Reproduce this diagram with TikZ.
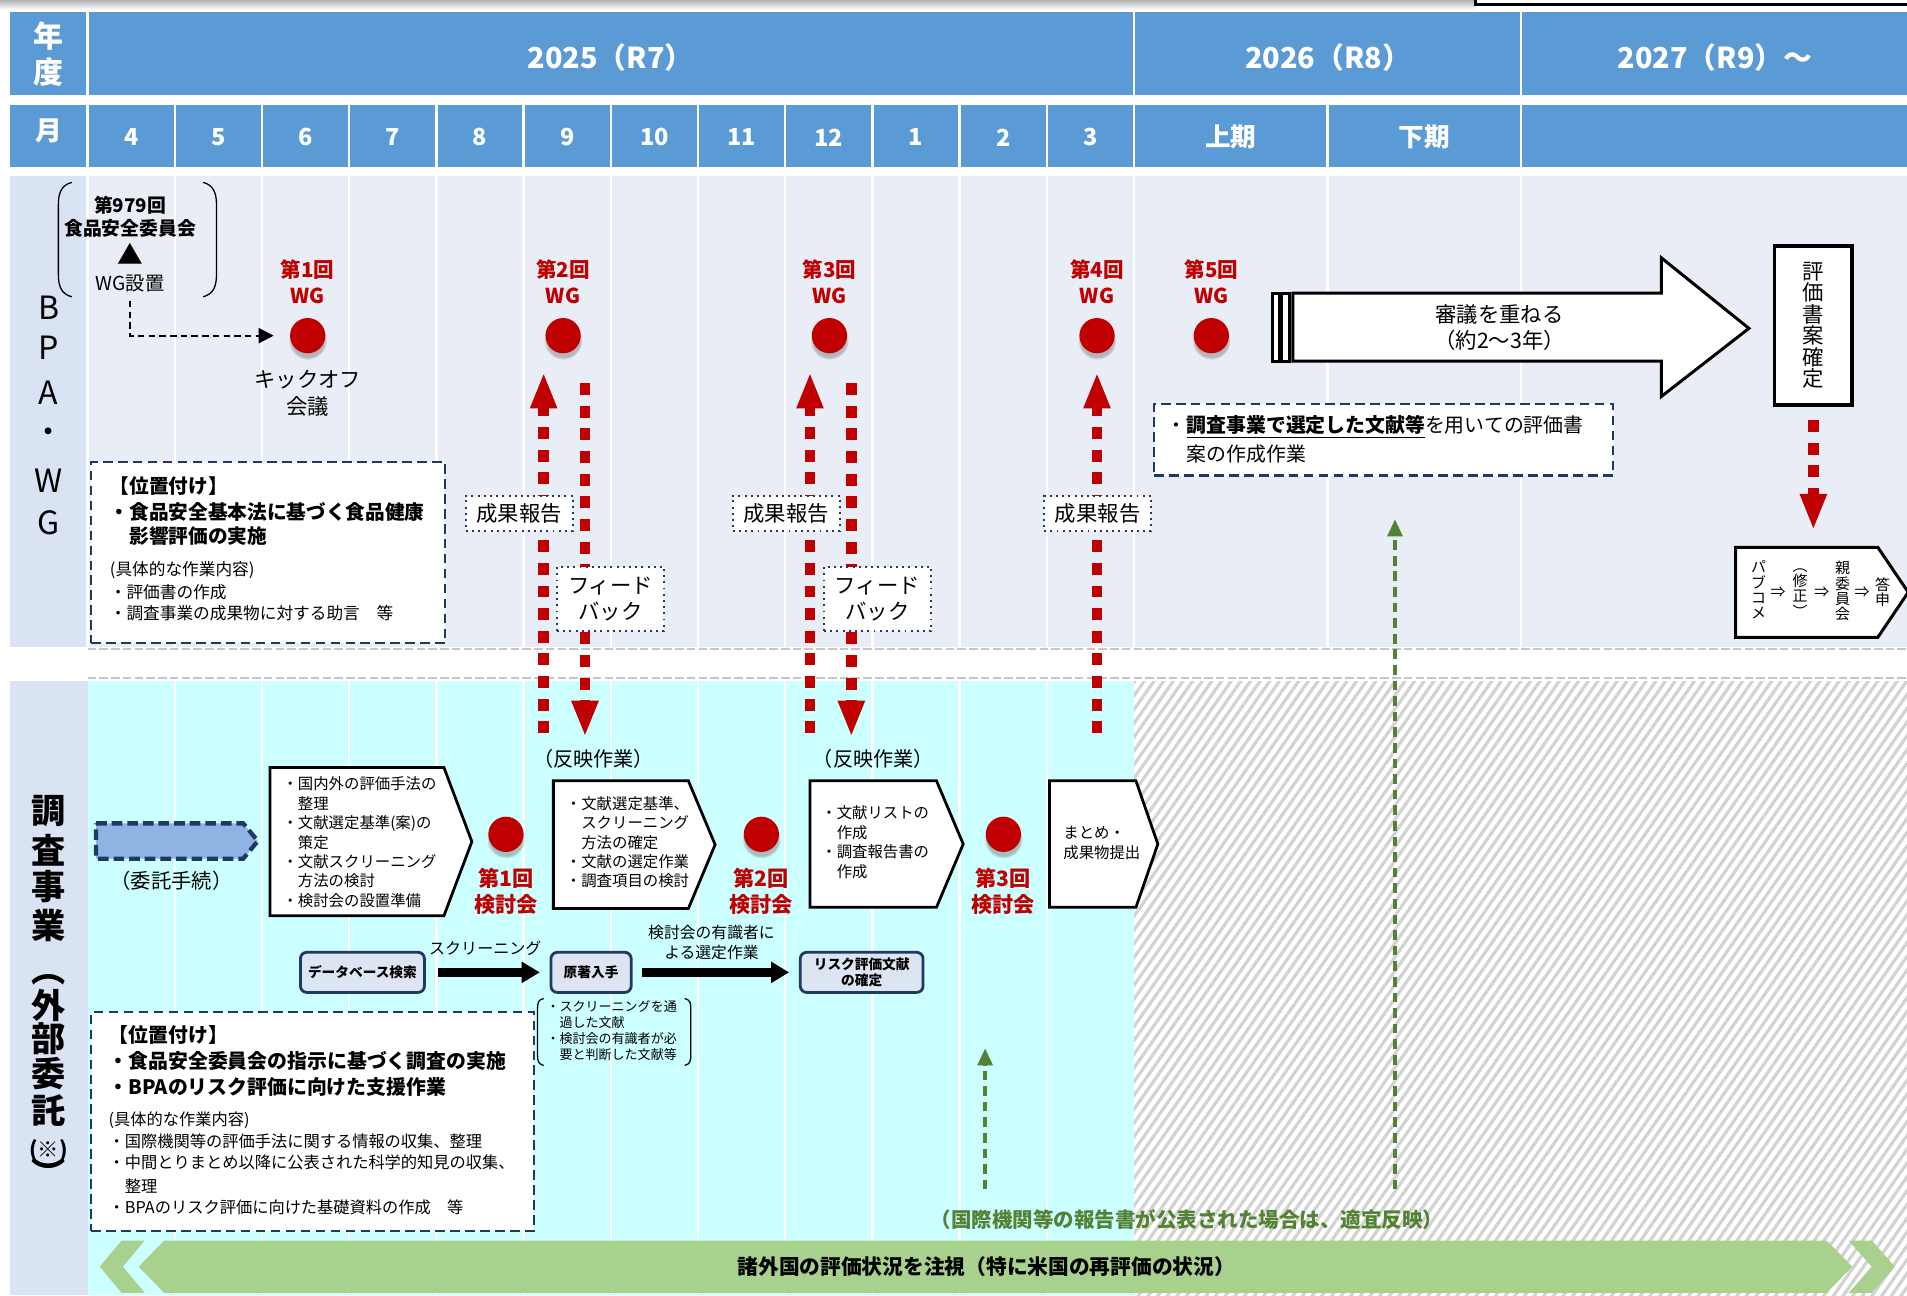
\documentclass[tikz,border=0pt]{standalone}
\usepackage{fontspec}
\setmainfont{Noto Sans CJK JP}
\usetikzlibrary{arrows.meta, positioning, shadows, patterns.meta}

\definecolor{hdblue}{HTML}{5B9BD5}
\definecolor{bandgray}{HTML}{E9EDF5}
\definecolor{labelgray}{HTML}{DAE3F3}
\definecolor{bandcyan}{HTML}{CCFFFF}
\definecolor{wgred}{HTML}{C00000}
\definecolor{navy}{HTML}{203864}
\definecolor{leafgreen}{HTML}{548235}
\definecolor{bandgreen}{HTML}{A9D18E}
\definecolor{dbfill}{HTML}{DDE5F2}
\definecolor{handfill}{HTML}{8FB4E3}

\newcommand{\fsz}[2]{\fontsize{#1pt}{#2pt}\selectfont}

\begin{document}
\begin{tikzpicture}[x=0.02cm, y=-0.02cm, >=latex,
    sep/.style={white, line width=0.04cm},
    hdtxt/.style={text=white, font=\bfseries\fsz{13.5}{16}},
    mtxt/.style={text=white, font=\bfseries\fsz{11}{13}},
    sidetxt/.style={font=\fsz{15}{15}, inner sep=0pt},
    sidebold/.style={font=\bfseries\fsz{16}{16}, inner sep=0pt},
    wgdot/.style={circle, fill=wgred, inner sep=0pt, minimum size=0.58cm,
      circular drop shadow={shadow xshift=0pt, shadow yshift=-2pt, shadow scale=1.1, opacity=.5}},
    wglbl/.style={text=wgred, font=\bfseries\fsz{9.6}{12}, align=center, inner sep=0pt},
    posbox/.style={draw=navy, line width=1pt, dash pattern=on 4.5pt off 2.5pt, fill=white},
    tagbox/.style={draw=navy, line width=0.9pt, dotted, fill=white, inner sep=0pt,
      minimum width=1.76cm, font=\fsz{10}{12}, align=center},
    boldline/.style={anchor=west, inner sep=0pt, font=\bfseries\fsz{9.2}{11}},
    thinline/.style={anchor=west, inner sep=0pt, font=\fsz{7.8}{10}},
    feed/.style={draw=wgred, line width=5pt, dash pattern=on 5.6pt off 5pt,
      -{Triangle[length=17pt,width=11.5pt]}},
    stepbox/.style={draw=black, line width=1.3pt, fill=white},
    steptxt/.style={anchor=west, inner sep=0pt, align=left, font=\fsz{7.2}{9.1}},
    dbbox/.style={draw=navy, fill=dbfill, line width=1.3pt, rounded corners=3pt,
      inner sep=0pt, minimum height=0.66cm, align=center, font=\bfseries\fsz{6.4}{7.6}},
    flow/.style={line width=4.5pt, -{Triangle[length=8.5pt,width=9.5pt]}},
    watch/.style={draw=leafgreen, line width=1.6pt, dash pattern=on 4.5pt off 2.8pt,
      -{Triangle[length=8pt,width=7pt]}}]

  \useasboundingbox (0,0) rectangle (1568,1065);
  \clip (0,0) rectangle (1568,1065);
  \fill[white] (0,0) rectangle (1568,1065);
  \shade[top color=gray!60, bottom color=white] (0,0) rectangle (1213,8);
  \draw[line width=1.4pt, fill=white] (1213,-10) rectangle (1580,4);

  % header rows and bands
  \fill[hdblue] (8,10) rectangle (1568,78);
  \fill[hdblue] (8,86) rectangle (1568,137);
  \fill[labelgray] (8,145) rectangle (72,532);
  \fill[bandgray] (72,145) rectangle (1568,532);
  \fill[labelgray] (8,560) rectangle (72,1065);
  \fill[bandcyan] (72,560) rectangle (932.4,1065);
  \fill[pattern={Lines[angle=55,distance=3.7pt,line width=1.5pt]}, pattern color=gray!35]
    (932.4,560) rectangle (1568,1065);

  \foreach \xx in {72,932.4,1250.6}
    \draw[sep] (\xx,10) -- (\xx,78);
  \foreach \xx in {72,932.4,1091.5,1250.6}
    \draw[sep] (\xx,86) -- (\xx,532);
  \foreach \i in {1,...,11}
    \draw[sep] ({72+71.7*\i},86) -- ({72+71.7*\i},1065);
  \draw[gray!45, line width=0.04cm, dash pattern=on 4pt off 1.5pt] (72,533.5) -- (1568,533.5);
  \draw[gray!45, line width=0.04cm, dash pattern=on 4pt off 1.5pt] (72,557.5) -- (1568,557.5);

  % header text
  \node[hdtxt, align=center, font=\bfseries\fsz{14}{16.5}] (nendo) at (40,44.5) {年\\度};
  \node[hdtxt] (fy25) at (502,47) {2025（R7）};
  \node[hdtxt] (fy26) at (1092,47) {2026（R8）};
  \node[hdtxt] (fy27) at (1410,47) {2027（R9）〜};
  \node[mtxt, font=\bfseries\fsz{12.5}{13}] (tsuki) at (40,108) {月};
  \foreach \m [count=\i from 0] in {4,...,12,1,2,3}
    \node[mtxt] (m\m) at ({107.85+71.7*\i},113) {\m};
  \node[mtxt, font=\bfseries\fsz{12}{13}] (kamiki) at (1012,113) {上期};
  \node[mtxt, font=\bfseries\fsz{12}{13}] (shimoki) at (1171,113) {下期};

  % side labels
  \foreach \c/\yy in {B/253,P/286,A/323,・/358,W/395,G/430}
    \node[sidetxt] (bpa\yy) at (40,\yy) {\c};
  \foreach \c/\yy in {調/667,査/699,事/729,業/761,︵/806,外/827,部/854,委/883,託/913,︶/964}
    \node[sidebold] (ext\yy) at (40,\yy) {\c};
  \node[sidebold, font=\bfseries\fsz{10}{10}] (kome) at (40,946) {(※)};

  % WG setup
  \draw[line width=0.6pt] (59,150) .. controls (51,152) and (48,158) .. (48,168) -- (48,226)
    .. controls (48,236) and (51,242) .. (59,244);
  \draw[line width=0.6pt] (167,150) .. controls (175,152) and (178,158) .. (178,168) -- (178,226)
    .. controls (178,236) and (175,242) .. (167,244);
  \node[font=\bfseries\fsz{8.8}{10.8}, align=center] (fsc) at (107,178.5) {第979回\\食品安全委員会};
  \node[font=\fsz{12}{12}, inner sep=0pt] (tri) at (107,209) {▲};
  \node[font=\fsz{9}{10}, inner sep=0pt] (wgset) at (107,233) {WG設置};

  % WG meetings
  \node[wgdot] (wg1) at (253,276) {};
  \node[wgdot] (wg2) at (463,276) {};
  \node[wgdot] (wg3) at (682,276) {};
  \node[wgdot] (wg4) at (902,276) {};
  \node[wgdot] (wg5) at (996,276) {};
  \node[wglbl, above=6.5pt of wg1] (wg1t) {第1回\\WG};
  \node[wglbl, above=6.5pt of wg2] (wg2t) {第2回\\WG};
  \node[wglbl, above=6.5pt of wg3] (wg3t) {第3回\\WG};
  \node[wglbl, above=6.5pt of wg4] (wg4t) {第4回\\WG};
  \node[wglbl, above=6.5pt of wg5] (wg5t) {第5回\\WG};
  \node[font=\fsz{10}{12.5}, align=center] (kickoff) at (253,323.5) {キックオフ\\会議};
  \draw[line width=1.1pt, dash pattern=on 3pt off 2pt, -{Triangle[length=7pt,width=7pt]},
    shorten <=0.14cm, shorten >=0.56cm] (wgset.south) |- (wg1.center);

  % report / feedback
  \coordinate (up2s) at (447,603);  \coordinate (up2e) at (447,306);
  \coordinate (dn2s) at (481,315);  \coordinate (dn2e) at (481,606);
  \coordinate (up3s) at (666,603);  \coordinate (up3e) at (666,306);
  \coordinate (dn3s) at (700,315);  \coordinate (dn3e) at (700,606);
  \coordinate (up4s) at (902,603);  \coordinate (up4e) at (902,306);
  \draw[feed] (up2s) -- (up2e);
  \draw[feed] (dn2s) -- (dn2e);
  \draw[feed] (up3s) -- (up3e);
  \draw[feed] (dn3s) -- (dn3e);
  \draw[feed] (up4s) -- (up4e);
  \node[tagbox, minimum height=0.58cm] (rep2) at (427,422) {成果報告};
  \node[tagbox, minimum height=0.58cm] (rep3) at (646.5,422) {成果報告};
  \node[tagbox, minimum height=0.58cm] (rep4) at (902.5,422) {成果報告};
  \node[tagbox, minimum height=1.06cm] (fb2) at (502,492.5) {フィード\\バック};
  \node[tagbox, minimum height=1.06cm] (fb3) at (721.5,492.5) {フィード\\バック};

  % BPA position
  \node[posbox, minimum width=5.82cm, minimum height=2.98cm] (bpapos) at (220.5,454.5) {};
  \node[boldline] (bp1) at (90,400) {【位置付け】};
  \node[boldline] (bp2) at (90,421) {・食品安全基本法に基づく食品健康};
  \node[boldline] (bp3) at (90,441) {　影響評価の実施};
  \node[thinline] (bp4) at (90,469) {(具体的な作業内容)};
  \node[thinline] (bp5) at (90,487) {・評価書の作成};
  \node[thinline] (bp6) at (90,504) {・調査事業の成果物に対する助言　等};

  % deliberation arrow
  \draw[line width=1.4pt, fill=white] (1046,241) rectangle (1052,297);
  \draw[line width=1.4pt, fill=white] (1054,241) rectangle (1060,297);
  \draw[line width=1.4pt, fill=white] (1063,241) -- (1366,241) -- (1366,212) -- (1438,270)
    -- (1366,326) -- (1366,297) -- (1063,297) -- cycle;
  \node[font=\fsz{10}{12}, align=center] (deliber) at (1233,269.5) {審議を重ねる\\（約2〜3年）};

  \node[draw, line width=1.7pt, fill=white, minimum width=1.28cm, minimum height=2.62cm,
    inner sep=0pt, align=center, font=\fsz{10}{10}] (conf) at (1491,267.5) {評\\価\\書\\案\\確\\定};
  \coordinate (confend) at (1491,436);
  \draw[feed, shorten <=0.22cm] (conf.south) -- (confend);

  \draw[stepbox, line width=1.4pt] (1427,450) -- (1544,450) -- (1569,487) -- (1544,524) -- (1427,524) -- cycle;
  \node[font=\fsz{7}{7.1}, align=center, inner sep=0pt] (pc1) at (1446,485) {パ\\ブ\\コ\\メ};
  \node[font=\fsz{7}{7.1}, inner sep=0pt] (ar1) at (1462,487) {⇒};
  \node[font=\fsz{7}{7.1}, align=center, inner sep=0pt] (pc2) at (1480,487.5) {︵\\修\\正\\︶};
  \node[font=\fsz{7}{7.1}, inner sep=0pt] (ar2) at (1498,487) {⇒};
  \node[font=\fsz{7}{7.1}, align=center, inner sep=0pt] (pc3) at (1515,486) {親\\委\\員\\会};
  \node[font=\fsz{7}{7.1}, inner sep=0pt] (ar3) at (1531,487) {⇒};
  \node[font=\fsz{7}{7.1}, align=center, inner sep=0pt] (pc4) at (1548,487) {答\\申};

  \node[posbox, minimum width=7.54cm, minimum height=1.18cm] (selbox) at (1137.5,361.5) {};
  \node[anchor=west, inner sep=0pt, font=\fsz{9.3}{11}] (sel1) at (959,351)
    {・\textbf{\underline{調査事業で選定した文献等}}を用いての評価書};
  \node[anchor=west, inner sep=0pt, font=\fsz{9.3}{11}] (sel2) at (959,373) {　案の作成作業};

  % survey band
  \draw[draw=navy, fill=handfill, line width=2pt, dash pattern=on 5pt off 2.3pt]
    (79,677) -- (200,677) -- (212,691.5) -- (200,706) -- (79,706) -- cycle;
  \node[font=\fsz{9.5}{11}] (itaku) at (141,724) {（委託手続）};

  \draw[stepbox] (222,631) -- (365,631) -- (388,692) -- (365,753) -- (222,753) -- cycle;
  \node[steptxt] (st1) at (232,692.5) {・国内外の評価手法の\\　整理\\・文献選定基準(案)の\\　策定\\・文献スクリーニング\\　方法の検討\\・検討会の設置準備};
  \draw[stepbox] (455,642) -- (566,642) -- (588,694.5) -- (566,747) -- (455,747) -- cycle;
  \node[steptxt] (st2) at (465,692.5) {・文献選定基準、\\　スクリーニング\\　方法の確定\\・文献の選定作業\\・調査項目の検討};
  \draw[stepbox] (666,642) -- (770,642) -- (792,694) -- (770,746) -- (666,746) -- cycle;
  \node[steptxt] (st3) at (675,692.5) {・文献リストの\\　作成\\・調査報告書の\\　作成};
  \draw[stepbox] (863,642) -- (934,642) -- (952,694) -- (934,746) -- (863,746) -- cycle;
  \node[steptxt] (st4) at (874,693) {まとめ・\\成果物提出};

  \node[wgdot] (kt1) at (416,686) {};
  \node[wgdot] (kt2) at (626,686) {};
  \node[wgdot] (kt3) at (825,686) {};
  \node[wglbl, font=\bfseries\fsz{9.9}{12.5}, below=7pt of kt1] (kt1t) {第1回\\検討会};
  \node[wglbl, font=\bfseries\fsz{9.9}{12.5}, below=7pt of kt2] (kt2t) {第2回\\検討会};
  \node[wglbl, font=\bfseries\fsz{9.9}{12.5}, below=7pt of kt3] (kt3t) {第3回\\検討会};
  \node[font=\fsz{9.4}{11}] (han2) at (488,624) {（反映作業）};
  \node[font=\fsz{9.4}{11}] (han3) at (718,624) {（反映作業）};

  % literature flow
  \node[dbbox, minimum width=2.04cm] (dbs) at (298,799.5) {データベース検索};
  \node[dbbox, minimum width=1.32cm] (gen) at (486,799.5) {原著入手};
  \node[dbbox, minimum width=2.02cm] (risk) at (708.5,799.5) {リスク評価文献\\の確定};
  \draw[flow, shorten <=0.2cm, shorten >=0.16cm] (dbs) -- (gen);
  \draw[flow, shorten <=0.16cm, shorten >=0.16cm] (gen) -- (risk);
  \node[font=\fsz{7.5}{9}] (scr) at (399,780) {スクリーニング};
  \node[font=\fsz{7.4}{9.1}, align=center] (expert) at (585,775) {検討会の有識者に\\よる選定作業};
  \draw[line width=0.6pt] (447,821) .. controls (443,822) and (442,824) .. (442,829) -- (442,868)
    .. controls (442,873) and (443,875) .. (447,876);
  \draw[line width=0.6pt] (563,821) .. controls (567,822) and (568,824) .. (568,829) -- (568,868)
    .. controls (568,873) and (567,875) .. (563,876);
  \node[anchor=west, inner sep=0pt, align=left, font=\fsz{6.1}{7.4}] (passed) at (449,847.5)
    {・スクリーニングを通\\　過した文献\\・検討会の有識者が必\\　要と判断した文献等};

  % survey position
  \node[posbox, minimum width=7.28cm, minimum height=3.6cm] (extpos) at (257,922) {};
  \node[boldline, font=\bfseries\fsz{9.3}{11}] (ep1) at (89,851) {【位置付け】};
  \node[boldline, font=\bfseries\fsz{9.3}{11}] (ep2) at (89,872) {・食品安全委員会の指示に基づく調査の実施};
  \node[boldline, font=\bfseries\fsz{9.3}{11}] (ep3) at (89,894) {・BPAのリスク評価に向けた支援作業};
  \node[thinline, font=\fsz{7.6}{10}] (ep4) at (89,921) {(具体的な作業内容)};
  \node[thinline, font=\fsz{7.6}{10}] (ep5) at (89,938) {・国際機関等の評価手法に関する情報の収集、整理};
  \node[thinline, font=\fsz{7.6}{10}] (ep6) at (89,956) {・中間とりまとめ以降に公表された科学的知見の収集、};
  \node[thinline, font=\fsz{7.6}{10}] (ep7) at (89,975) {　整理};
  \node[thinline, font=\fsz{7.6}{10}] (ep8) at (89,993) {・BPAのリスク評価に向けた基礎資料の作成　等};

  % international reports
  \coordinate (gr1s) at (810,978);  \coordinate (gr1e) at (810,862);
  \coordinate (gr2s) at (1147,978); \coordinate (gr2e) at (1147,427);
  \draw[watch] (gr1s) -- (gr1e);
  \draw[watch] (gr2s) -- (gr2e);
  \node[text=leafgreen, font=\bfseries\fsz{9.6}{11}] (intl) at (976,1003)
    {（国際機関等の報告書が公表された場合は、適宜反映）};

  \fill[bandgreen] (100,1020) -- (119,1020) -- (101,1041.5) -- (119,1063) -- (100,1063) -- (82,1041.5) -- cycle;
  \fill[bandgreen] (135,1020) -- (1502,1020) -- (1523,1041.5) -- (1502,1063) -- (135,1063) -- (114,1041.5) -- cycle;
  \fill[bandgreen] (1520,1020) -- (1539,1020) -- (1558,1041.5) -- (1539,1063) -- (1520,1063) -- (1539,1041.5) -- cycle;
  \node[font=\bfseries\fsz{9.7}{11}] (watchus) at (811,1041.5) {諸外国の評価状況を注視（特に米国の再評価の状況）};
\end{tikzpicture}
\end{document}
